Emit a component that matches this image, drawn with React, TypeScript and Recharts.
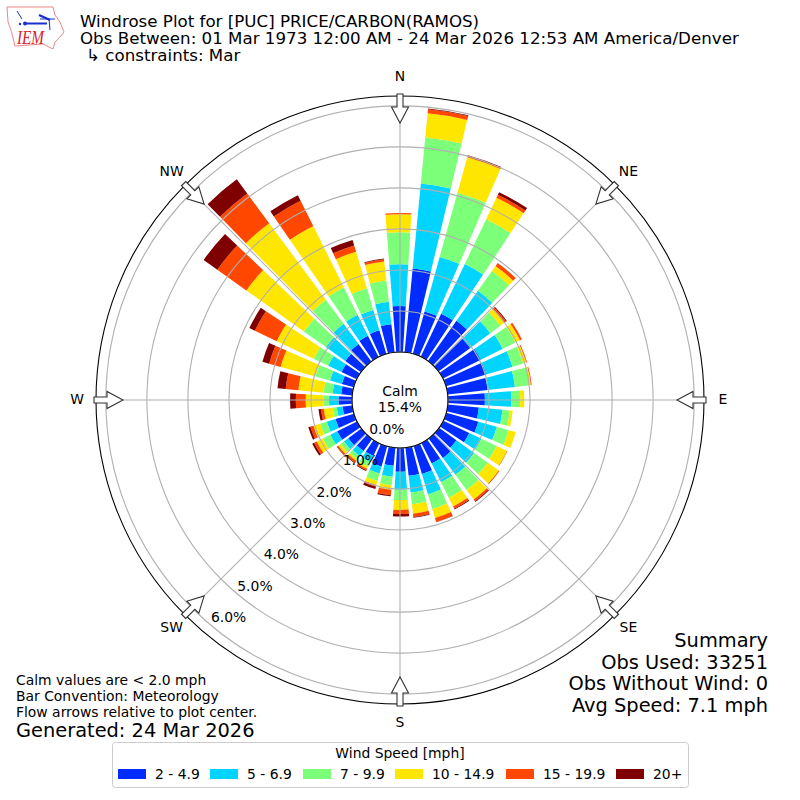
import { RadialBarChart, RadialBar, PolarGrid, PolarAngleAxis, PolarRadiusAxis } from "recharts";

const directions = [0, 10, 20, 30, 40, 50, 60, 70, 80, 90, 100, 110, 120, 130, 140, 150, 160, 170, 180, 190, 200, 210, 220, 230, 240, 250, 260, 270, 280, 290, 300, 310, 320, 330, 340, 350];
const blue = [1.12, 2.05, 1.07, 1.16, 1.2, 0.96, 1.03, 1.02, 0.98, 0.9, 0.76, 0.81, 0.7, 0.52, 0.59, 0.56, 0.71, 0.69, 0.58, 0.44, 0.51, 0.34, 0.36, 0.4, 0.54, 0.47, 0.24, 0.33, 0.27, 0.3, 0.41, 0.47, 0.53, 0.58, 0.6, 0.69];
const cyan = [1.02, 2.08, 1.38, 1.34, 0.9, 0.61, 0.6, 0.67, 0.67, 0.64, 0.58, 0.47, 0.33, 0.53, 0.51, 0.51, 0.52, 0.41, 0.44, 0.27, 0.18, 0.17, 0.15, 0.13, 0.19, 0.22, 0.14, 0.23, 0.21, 0.3, 0.36, 0.58, 0.61, 0.57, 0.52, 0.55];
const green = [0.78, 1.13, 1.62, 1.21, 0.59, 0.3, 0.34, 0.27, 0.35, 0.22, 0.18, 0.3, 0.41, 0.41, 0.46, 0.42, 0.37, 0.29, 0.25, 0.21, 0.19, 0.12, 0.1, 0.1, 0.2, 0.17, 0.1, 0.14, 0.22, 0.37, 0.39, 0.66, 0.73, 0.75, 0.55, 0.52];
const yellow = [0.44, 0.59, 0.9, 0.58, 0.15, 0.13, 0.13, 0.08, 0.04, 0.1, 0.07, 0.18, 0.28, 0.33, 0.29, 0.24, 0.23, 0.23, 0.24, 0.11, 0.1, 0.06, 0.05, 0.07, 0.17, 0.17, 0.22, 0.43, 0.62, 0.88, 1.0, 1.72, 2.32, 1.67, 0.93, 0.47];
const orange = [0.03, 0.1, 0.03, 0.08, 0.09, 0.05, 0.05, 0.02, 0.02, 0, 0, 0, 0.01, 0.02, 0.05, 0.06, 0.1, 0.08, 0.1, 0.13, 0.04, 0.04, 0.05, 0.04, 0.07, 0.08, 0.07, 0.24, 0.31, 0.29, 0.59, 0.87, 0.9, 0.69, 0.16, 0.05];
const dark = [0, 0.02, 0.02, 0.07, 0, 0.02, 0, 0, 0, 0, 0, 0, 0, 0, 0.02, 0.02, 0.01, 0.02, 0.06, 0.03, 0.06, 0.02, 0.02, 0.01, 0.05, 0.05, 0.06, 0.14, 0.2, 0.17, 0.15, 0.41, 0.43, 0.15, 0.14, 0.02];

const speedLabels = ["2 - 4.9", "5 - 6.9", "7 - 9.9", "10 - 14.9", "15 - 19.9", "20+"];
const speedKeys = ["blue", "cyan", "green", "yellow", "orange", "dark"];
const speedColors = ["#002cff", "#00d4ff", "#7cff79", "#ffe600", "#ff4700", "#7f0000"];
const percentTicks = [0, 1, 2, 3, 4, 5, 6];
const percentDomain = [0, 6.24];
const compassAngles = [0, 45, 90, 135, 180, 225, 270, 315];
const compassNames = ["N", "NE", "E", "SE", "S", "SW", "W", "NW"];
const legendSwatchX = [118, 210, 303, 395, 506, 616];

const chartData = directions.map((dir, i) => ({
  dir,
  blue: blue[i],
  cyan: cyan[i],
  green: green[i],
  yellow: yellow[i],
  orange: orange[i],
  dark: dark[i],
}));

const FONT = "DejaVu Sans";
const chartProps = {
  width: 800,
  height: 800,
  data: chartData,
  layout: "centric",
  cx: 400,
  cy: 400,
  innerRadius: 48,
  outerRadius: 304,
  startAngle: 90,
  endAngle: -270,
  barSize: 8,
  margin: { top: 0, right: 0, bottom: 0, left: 0 },
} as any;

const Txt = ({ x, y, size = 14, anchor = "start", children }: any) => (
  <text x={x} y={y} fontSize={size} textAnchor={anchor} dominantBaseline="central" fontFamily={FONT} fill="#000">
    {children}
  </text>
);

const CompassTick = ({ x, y, payload }: any) => (
  <text x={x} y={y - 1} fontSize={13.9} textAnchor="middle" dominantBaseline="central" fontFamily={FONT} fill="#000">
    {compassNames[compassAngles.indexOf(payload.value)]}
  </text>
);

const PercentTick = ({ x, y, payload }: any) => (
  <text x={x} y={y - 8} fontSize={13.9} textAnchor="start" dominantBaseline="central" fontFamily={FONT} fill="#000">
    {payload.value.toFixed(1)}%
  </text>
);

// rough redraw of the IEM logo
const Logo = () => (
  <g>
    <path
      d="M7 7 L53 7 L55 15 L60 22 L64 32 L60 37 L55 42 L53 49 L43 44 L15 46 L13 38 L11 30 L8 22 Z"
      fill="#fff"
      stroke="#e88"
      strokeWidth={1}
    />
    <g stroke="#1a2fd0" fill="none">
      <path d="M25 23.5 L47 23.5" strokeWidth={2} />
      <path d="M39 15 L50 20" strokeWidth={2.2} />
      <path d="M40 19 L55 19 M49 19 L50 30 M17 11 L22 19" strokeWidth={1} />
    </g>
    <circle cx={25} cy={23.5} r={2} fill="#1a2fd0" />
    <circle cx={20} cy={24} r={1.2} fill="#1a2fd0" />
    <text x={17} y={44} fontSize={19} fontStyle="italic" fontFamily="Liberation Serif" fill="#d22" textLength={27} lengthAdjust="spacingAndGlyphs">
      IEM
    </text>
  </g>
);

export default function App() {
  return (
    <div style={{ position: "absolute", left: 0, top: 0, width: 800, height: 800, background: "#fff" }}>
      <RadialBarChart {...chartProps}>
        <PolarAngleAxis type="number" dataKey="dir" domain={[0, 360]} ticks={compassAngles} tick={false} tickLine={false} axisLine={false} />
        <PolarRadiusAxis type="number" domain={percentDomain} ticks={percentTicks} tick={false} tickLine={false} axisLine={false} />
        {speedKeys.map((key, i) => (
          <RadialBar key={key} dataKey={key} stackId="wind" fill={speedColors[i]} isAnimationActive={false} />
        ))}
      </RadialBarChart>

      {/* grid and tick labels sit on top of the bars, as in the original */}
      <div style={{ position: "absolute", left: 0, top: 0 }}>
        <RadialBarChart {...chartProps}>
          <PolarAngleAxis
            type="number"
            dataKey="dir"
            domain={[0, 360]}
            ticks={compassAngles}
            tick={CompassTick}
            tickLine={false}
            axisLine={false}
            tickSize={19}
          />
          <PolarRadiusAxis
            type="number"
            domain={percentDomain}
            ticks={percentTicks}
            angle={230}
            tick={PercentTick}
            tickLine={false}
            axisLine={false}
          />
          {/* invisible series, the radius axis needs one to build its scale */}
          <RadialBar dataKey="dark" fill="none" isAnimationActive={false} />
          <PolarGrid gridType="circle" polarAngles={compassAngles.map((a) => 90 - a)} stroke="#b0b0b0" strokeWidth={1.1} />
        </RadialBarChart>
      </div>

      <svg width={800} height={800} style={{ position: "absolute", left: 0, top: 0, pointerEvents: "none" }}>
        <circle cx={400} cy={400} r={304} fill="none" stroke="#000" strokeWidth={1.1} />
        <circle cx={400} cy={400} r={48} fill="none" stroke="#000" strokeWidth={1.1} />
        {compassAngles.map((a) => (
          <path
            key={a}
            transform={`rotate(${a} 400 400)`}
            d="M397 94 L403 94 L403 107 L408.5 107 L400 123 L391.5 107 L397 107 Z"
            fill="#fff"
            stroke="#333"
            strokeWidth={1.1}
          />
        ))}
        <Logo />
        <Txt x={80} y={21} size={16.68}>Windrose Plot for [PUC] PRICE/CARBON(RAMOS)</Txt>
        <Txt x={80} y={38} size={16.68}>Obs Between: 01 Mar 1973 12:00 AM - 24 Mar 2026 12:53 AM America/Denver</Txt>
        <Txt x={86} y={55} size={16.68}>↳ constraints: Mar</Txt>
        <Txt x={400} y={391} size={13.9} anchor="middle">Calm</Txt>
        <Txt x={400} y={407} size={13.9} anchor="middle">15.4%</Txt>
        <Txt x={768} y={640} size={19.4} anchor="end">Summary</Txt>
        <Txt x={768} y={662} size={19.4} anchor="end">Obs Used: 33251</Txt>
        <Txt x={768} y={683} size={19.4} anchor="end">Obs Without Wind: 0</Txt>
        <Txt x={768} y={705} size={19.4} anchor="end">Avg Speed: 7.1 mph</Txt>
        <Txt x={16} y={680} size={13.9}>Calm values are &lt; 2.0 mph</Txt>
        <Txt x={16} y={696} size={13.9}>Bar Convention: Meteorology</Txt>
        <Txt x={16} y={712} size={13.9}>Flow arrows relative to plot center.</Txt>
        <Txt x={16} y={730} size={19.4}>Generated: 24 Mar 2026</Txt>
        <rect x={112.5} y={742.5} width={576} height={45} rx={3} fill="#fff" stroke="#ccc" />
        <Txt x={400} y={753} size={13.9} anchor="middle">Wind Speed [mph]</Txt>
        {speedLabels.map((label, i) => (
          <g key={label}>
            <rect x={legendSwatchX[i]} y={769} width={28} height={10} fill={speedColors[i]} />
            <Txt x={legendSwatchX[i] + 37} y={774} size={13.9}>{label}</Txt>
          </g>
        ))}
      </svg>
    </div>
  );
}
